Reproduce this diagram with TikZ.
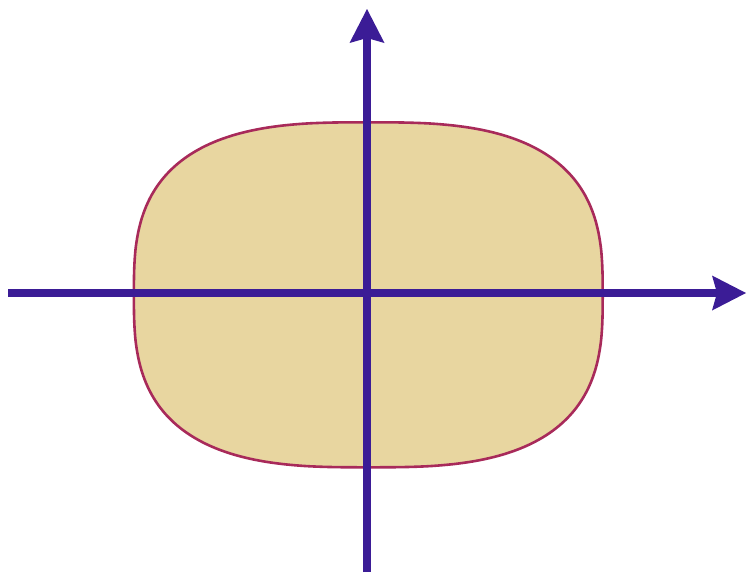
\documentclass[tikz,border=0pt]{standalone}
\usetikzlibrary{arrows.meta}
\definecolor{shapefill}{HTML}{E8D6A0}
\definecolor{shapeline}{HTML}{A82A5A}
\definecolor{axiscol}{HTML}{3B1C96}
\tikzset{
  axisline/.style={draw=axiscol, line width=8pt,
    -{Stealth[length=34pt, width=35pt, inset=5pt, line width=0pt]}},
  blob/.style={fill=shapefill, draw=shapeline, line width=2.6pt}
}
\begin{document}
\begin{tikzpicture}[x=1pt,y=-1pt]
\useasboundingbox (0,0) rectangle (747,574);
\coordinate (c) at (368.3,294.8);
\fill[blob] plot[domain=0:360, samples=241, smooth]
  ({368.3+234.4*sign(cos(\x))*(abs(cos(\x))+0.000001)^(0.69)},
   {294.8+172.5*sign(sin(\x))*(abs(sin(\x))+0.000001)^(0.69)}) -- cycle;
\coordinate (xl) at (8,293);
\coordinate (xr) at (746,293);
\coordinate (yb) at (367,572);
\coordinate (yt) at (367,9);
\draw[axisline] (xl) -- (xr);
\draw[axisline] (yb) -- (yt);
\end{tikzpicture}
\end{document}
